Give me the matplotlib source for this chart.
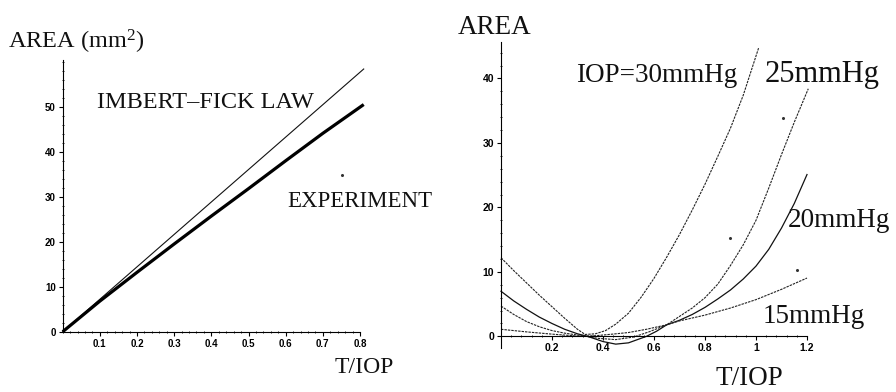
import matplotlib
matplotlib.use("Agg")
import matplotlib.pyplot as plt
from matplotlib.ticker import MultipleLocator, FixedLocator, FixedFormatter

plt.rcParams['mathtext.fontset'] = 'custom'
plt.rcParams['mathtext.rm'] = 'Liberation Serif'
plt.rcParams['mathtext.it'] = 'Liberation Serif'

# ---------------- data: left panel ----------------
imbert_x = [0.0, 0.81]
imbert_y = [0.0, 58.4]
exp_x = [0.0, 0.1, 0.2, 0.3, 0.4, 0.5, 0.6, 0.7, 0.81]
exp_y = [0.0, 6.8, 13.2, 19.5, 25.7, 31.8, 38.0, 44.1, 50.5]
left_speck_x = [0.752]
left_speck_y = [34.8]
left_xticks = [0.1, 0.2, 0.3, 0.4, 0.5, 0.6, 0.7, 0.8]
left_xticklabels = ['0.1', '0.2', '0.3', '0.4', '0.5', '0.6', '0.7', '0.8']
left_yticks = [0, 10, 20, 30, 40, 50]
left_yticklabels = ['0', '10', '20', '30', '40', '50']

# ---------------- data: right panel ----------------
c30_x = [0, 0.05, 0.1, 0.15, 0.2, 0.25, 0.3, 0.33, 0.37, 0.41, 0.45, 0.5, 0.55,
         0.6, 0.65, 0.7, 0.75, 0.8, 0.85, 0.9, 0.95, 1.01]
c30_y = [12.2, 10.2, 8.3, 6.4, 4.6, 2.8, 1.1, 0.3, 0.4, 0.9, 1.9, 3.6, 6.1,
         9.0, 12.3, 15.8, 19.6, 23.6, 27.9, 32.3, 37.4, 44.7]
c25_x = [0, 0.05, 0.1, 0.15, 0.2, 0.25, 0.32, 0.38, 0.45, 0.52, 0.58, 0.65,
         0.7, 0.75, 0.8, 0.85, 0.9, 0.95, 1.0, 1.05, 1.1, 1.15, 1.205]
c25_y = [4.7, 3.4, 2.3, 1.5, 0.9, 0.5, 0.1, -0.3, -0.5, -0.1, 0.7, 1.8,
         3.1, 4.4, 6.0, 8.1, 11.0, 14.2, 18.0, 23.0, 28.2, 33.2, 38.4]
c20_x = [0, 0.05, 0.1, 0.15, 0.2, 0.25, 0.3, 0.34, 0.4, 0.45, 0.5, 0.57, 0.61,
         0.65, 0.7, 0.75, 0.8, 0.85, 0.9, 0.95, 1.0, 1.05, 1.1, 1.15, 1.2]
c20_y = [7.0, 5.5, 4.2, 3.0, 2.0, 1.1, 0.4, 0.0, -0.8, -1.2, -1.0, 0.0, 0.8,
         1.8, 2.5, 3.4, 4.5, 5.8, 7.2, 8.9, 10.9, 13.5, 16.8, 20.6, 25.1]
c15_x = [0, 0.1, 0.2, 0.3, 0.37, 0.45, 0.5, 0.57, 0.65, 0.7, 0.8, 0.9, 1.0, 1.1, 1.2]
c15_y = [1.1, 0.7, 0.35, 0.05, 0.1, 0.4, 0.6, 1.1, 1.8, 2.4, 3.3, 4.4, 5.7, 7.3, 9.05]
pts_x = [0.898, 1.16, 1.106]
pts_y = [15.3, 10.3, 33.9]
right_xticks = [0.2, 0.4, 0.6, 0.8, 1.0, 1.2]
right_xticklabels = ['0.2', '0.4', '0.6', '0.8', '1', '1.2']
right_yticks = [0, 10, 20, 30, 40]
right_yticklabels = ['0', '10', '20', '30', '40']

W, H = 896, 392
fig = plt.figure(figsize=(W / 100, H / 100), dpi=100)
fig.patch.set_facecolor('white')


def px_axes(l, r, t, b):
    return fig.add_axes([l / W, 1 - b / H, (r - l) / W, (b - t) / H])


def ftext(x, y, s, size, **kw):
    fig.text(x / W, 1 - y / H, s, fontsize=size, family='Liberation Serif',
             ha='left', va='baseline', color='#111111', **kw)


# ---------------- left axes ----------------
axL = px_axes(62.7, 360.0, 60.0, 331.7)
axL.set_xlim(0, 0.8)
axL.set_ylim(0, 60.4)
axL.plot(imbert_x, imbert_y, color='#111111', lw=0.8, clip_on=False)
axL.plot(exp_x, exp_y, color='#000000', lw=2.3, clip_on=False, solid_capstyle='butt')
axL.plot(left_speck_x, left_speck_y, 'o', ms=1.2, color='#333333', clip_on=False)
for s in ['top', 'right']:
    axL.spines[s].set_visible(False)
axL.xaxis.set_major_locator(FixedLocator(left_xticks))
axL.xaxis.set_major_formatter(FixedFormatter(left_xticklabels))
axL.yaxis.set_major_locator(FixedLocator(left_yticks))
axL.yaxis.set_major_formatter(FixedFormatter(left_yticklabels))
axL.xaxis.set_minor_locator(MultipleLocator(0.02))
axL.yaxis.set_minor_locator(MultipleLocator(2))
axL.tick_params(which='major', direction='out', length=3, width=0.8, pad=2, labelsize=7)
axL.tick_params(which='minor', direction='inout', length=2, width=0.6)
for lab in axL.get_xticklabels() + axL.get_yticklabels():
    lab.set_fontfamily('Liberation Sans'); lab.set_fontweight('bold')

# ---------------- right axes ----------------
axR = px_axes(501.0, 807.0, 41.7, 348.0)
axR.set_xlim(0, 1.2)
axR.set_ylim(-1.8, 45.7)
dash = (0, (2.2, 0.9))
axR.plot(c30_x, c30_y, color='#222222', lw=0.8, linestyle=dash, clip_on=False)
axR.plot(c25_x, c25_y, color='#222222', lw=0.8, linestyle=dash, clip_on=False)
axR.plot(c20_x, c20_y, color='#111111', lw=0.9, clip_on=False)
axR.plot(c15_x, c15_y, color='#222222', lw=0.8, linestyle=dash, clip_on=False)
axR.plot(pts_x, pts_y, 'o', ms=1.2, color='#333333')
for s in ['top', 'right']:
    axR.spines[s].set_visible(False)
axR.spines['bottom'].set_position(('data', 0))
axR.xaxis.set_major_locator(FixedLocator(right_xticks))
axR.xaxis.set_major_formatter(FixedFormatter(right_xticklabels))
axR.yaxis.set_major_locator(FixedLocator(right_yticks))
axR.yaxis.set_major_formatter(FixedFormatter(right_yticklabels))
axR.xaxis.set_minor_locator(MultipleLocator(0.04))
axR.yaxis.set_minor_locator(MultipleLocator(2))
axR.tick_params(which='major', direction='out', length=3, width=0.8, pad=2, labelsize=7.5)
axR.tick_params(which='minor', direction='inout', length=2, width=0.6)
for lab in axR.get_xticklabels() + axR.get_yticklabels():
    lab.set_fontfamily('Liberation Sans'); lab.set_fontweight('bold')

# ---------------- texts ----------------
ftext(8, 49, r'AREA (mm$^{2}$)', 17.5)
ftext(97, 108, 'IMBERT\u2013FICK LAW', 17.5)
ftext(287, 207, 'EXPERIMENT', 16.5)
ftext(335, 373, 'T/IOP', 17)

ftext(458, 34, 'AREA', 19.5)
ftext(576, 82, 'IOP=30mmHg', 19.5)
ftext(765, 82, '25mmHg', 22)
ftext(788, 227, '20mmHg', 19.5)
ftext(763, 323, '15mmHg', 19.5)
ftext(715, 385, 'T/IOP', 19.5)

fig.savefig('out.png', dpi=100)
